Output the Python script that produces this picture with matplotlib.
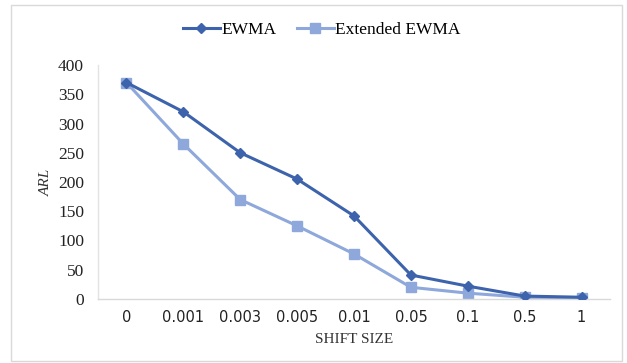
import matplotlib
matplotlib.use("Agg")
import matplotlib.pyplot as plt
from matplotlib.patches import Rectangle

shift_labels = ["0", "0.001", "0.003", "0.005", "0.01", "0.05", "0.1", "0.5", "1"]
ewma = [370, 320, 250, 205, 142, 41, 22, 5, 3]
extended_ewma = [370, 265, 170, 125, 77, 20, 10, 3, 2]
y_ticks = [0, 50, 100, 150, 200, 250, 300, 350, 400]

dark_blue = "#3D63AC"
light_blue = "#8EA8DB"
serif = "Liberation Serif"

fig = plt.figure(figsize=(6.27, 3.63), dpi=100)
fig.patch.set_facecolor("white")
fig.patches.append(Rectangle((11 / 627, 0.005), 611 / 627, 1 - 5 / 363 - 0.005,
                             transform=fig.transFigure, fill=False,
                             edgecolor="#D9D9D9", linewidth=1.0))

ax = fig.add_axes([98 / 627, 1 - 299 / 363, 512 / 627, 234 / 363])
x = list(range(len(shift_labels)))
ax.plot(x, ewma, color=dark_blue, marker="D", markersize=5.5, linewidth=2.2,
        label="EWMA", zorder=3)
ax.plot(x, extended_ewma, color=light_blue, marker="s", markersize=7.5, linewidth=2.2,
        label="Extended EWMA", zorder=2)

ax.set_xlim(-0.5, len(shift_labels) - 0.5)
ax.set_ylim(0, 400)
ax.set_xticks(x)
ax.set_xticklabels(shift_labels, fontfamily="DejaVu Sans", fontsize=10.5, color="#222222")
ax.set_yticks(y_ticks)
ax.set_yticklabels([str(v) for v in y_ticks], fontfamily=serif, fontsize=12.5, color="#222222")
ax.tick_params(axis="both", length=0)
ax.tick_params(axis="x", pad=8)
ax.tick_params(axis="y", pad=10)

for side in ["top", "right"]:
    ax.spines[side].set_visible(False)
ax.spines["left"].set_color("#E3E3E3")
ax.spines["bottom"].set_color("#D9D9D9")
ax.spines["left"].set_linewidth(1.0)
ax.spines["bottom"].set_linewidth(1.0)

ax.set_xlabel("SHIFT SIZE", fontfamily=serif, fontsize=11, color="#333333", labelpad=6)
ax.set_ylabel("ARL", fontfamily=serif, fontstyle="italic", fontsize=11, color="#333333",
              labelpad=4)

fig.legend(loc="center", bbox_to_anchor=(322 / 627, 1 - 30 / 363), ncol=2, frameon=False,
           prop={"family": serif, "size": 12.5}, handlelength=2.1, columnspacing=1.2,
           handletextpad=0.1)

fig.savefig("out.png", dpi=100, facecolor="white")
